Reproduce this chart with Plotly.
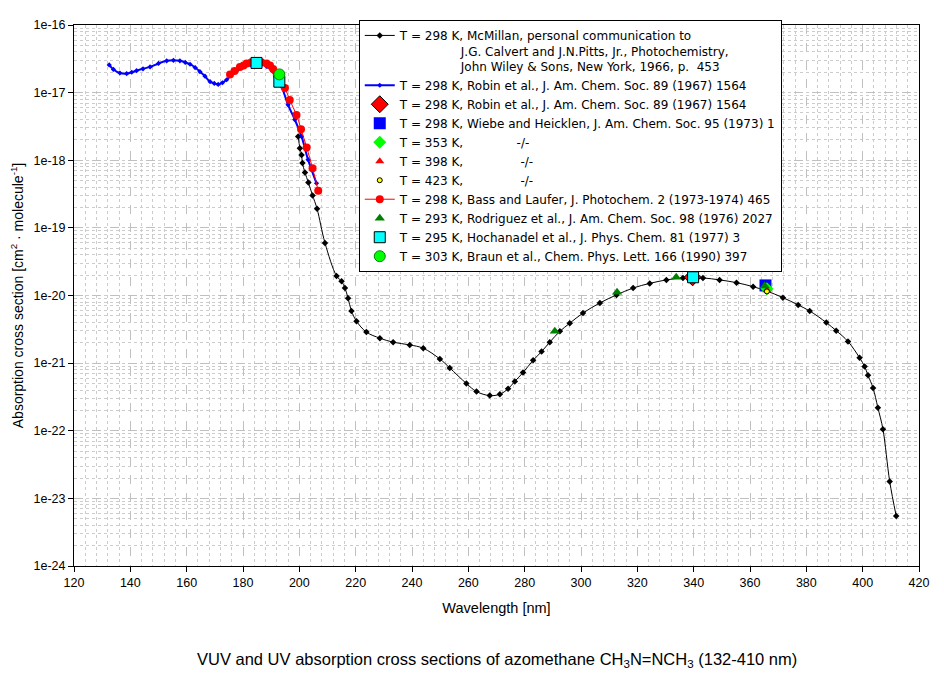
import plotly.graph_objects as go

# ---- data ----
mcmillan_wl = [199.6, 200.2, 200.8, 201.1, 202.0, 203.2, 204.7, 206.3, 209.1, 213.2, 215.0, 216.2,
               217.3, 218.5, 220.3, 223.8, 228.6, 233.3, 239.2, 244.0, 249.9, 253.4, 259.3, 262.9,
               267.6, 271.2, 274.1, 276.5, 279.4, 283.0, 286.0, 288.9, 292.5, 296.0, 300.7, 306.7,
               312.6, 318.5, 324.4, 330.3, 336.2, 343.3, 349.2, 355.2, 361.1, 365.8, 371.7, 377.1,
               381.2, 387.1, 390.6, 394.8, 398.9, 400.7, 401.9, 403.7, 405.4, 407.2, 409.6, 411.9]
mcmillan_xs = [2.24e-18, 1.51e-18, 1.20e-18, 9.1e-19, 6.6e-19, 4.68e-19, 3.02e-19, 1.91e-19, 6.0e-20,
               1.95e-20, 1.62e-20, 1.29e-20, 9.1e-21, 5.9e-21, 4.17e-21, 2.88e-21, 2.34e-21, 2.04e-21,
               1.86e-21, 1.66e-21, 1.15e-21, 8.5e-22, 5.0e-22, 3.8e-22, 3.31e-22, 3.47e-22, 4.17e-22,
               5.37e-22, 7.24e-22, 1.10e-21, 1.48e-21, 2.04e-21, 2.95e-21, 3.89e-21, 5.5e-21, 7.76e-21,
               1.02e-20, 1.29e-20, 1.51e-20, 1.70e-20, 1.82e-20, 1.82e-20, 1.70e-20, 1.55e-20, 1.35e-20,
               1.17e-20, 9.3e-21, 7.24e-21, 5.9e-21, 3.98e-21, 3.02e-21, 2.09e-21, 1.20e-21, 8.9e-22,
               6.6e-22, 4.27e-22, 2.19e-22, 1.05e-22, 1.78e-23, 5.5e-24]

robin_wl = [132.5, 134.0, 136.3, 138.7, 140.5, 142.2, 144.5, 147.0, 150.0, 152.9, 155.3, 157.6,
            159.5, 161.2, 163.0, 164.7, 166.5, 168.3, 169.8, 171.2, 172.7, 174.2, 176.5, 178.3,
            180.1, 182.5, 184.8, 186.6, 188.4, 190.7, 192.2, 193.7, 196.0, 198.4, 200.8, 203.1, 206.1]
robin_xs = [2.57e-17, 2.2e-17, 1.95e-17, 1.91e-17, 2.0e-17, 2.11e-17, 2.25e-17, 2.40e-17, 2.7e-17,
            2.95e-17, 3.0e-17, 2.95e-17, 2.8e-17, 2.63e-17, 2.35e-17, 2.04e-17, 1.75e-17, 1.45e-17,
            1.37e-17, 1.32e-17, 1.4e-17, 1.55e-17, 1.95e-17, 2.2e-17, 2.45e-17, 2.6e-17, 2.69e-17,
            2.6e-17, 2.45e-17, 2.04e-17, 1.6e-17, 1.23e-17, 6.6e-18, 3.98e-18, 2.24e-18, 1.02e-18,
            4.57e-19]

bass_wl = [175.4, 177.0, 178.9, 180.2, 181.3, 183.0, 184.8, 186.5, 188.4, 189.6, 190.7, 192.0,
           194.9, 196.6, 199.0, 200.6, 202.6, 204.7, 206.7]
bass_xs = [1.86e-17, 2.09e-17, 2.40e-17, 2.51e-17, 2.69e-17, 2.82e-17, 2.88e-17, 2.82e-17, 2.69e-17,
           2.51e-17, 2.24e-17, 1.82e-17, 1.17e-17, 7.76e-18, 4.68e-18, 2.88e-18, 1.55e-18, 7.59e-19,
           3.55e-19]

robin_pt_wl = [339.6]
robin_pt_xs = [1.86e-20]
wiebe_wl = [365.5]
wiebe_xs = [1.41e-20]
t353_wl = [366.0]
t353_xs = [1.26e-20]
t398_wl = [366.0]
t398_xs = [1.20e-20]
t423_wl = [366.0]
t423_xs = [1.15e-20]
rodriguez_wl = [290.7, 312.8, 333.8, 365.2]
rodriguez_xs = [2.95e-21, 1.12e-20, 1.86e-20, 1.38e-20]
hochanadel_wl = [184.8, 192.9, 339.8]
hochanadel_xs = [2.75e-17, 1.45e-17, 1.86e-20]
braun_wl = [192.9]
braun_xs = [1.86e-17]

y_tickvals = [1e-16, 1e-17, 1e-18, 1e-19, 1e-20, 1e-21, 1e-22, 1e-23, 1e-24]
y_ticktext = ["1e-16", "1e-17", "1e-18", "1e-19", "1e-20", "1e-21", "1e-22", "1e-23", "1e-24"]

FONT = "Liberation Sans, Arial, sans-serif"
LFONT = "DejaVu Sans, Liberation Sans, sans-serif"
NB = "\u00a0"

fig = go.Figure()

fig.add_trace(go.Scatter(
    x=mcmillan_wl, y=mcmillan_xs, mode="lines+markers", line=dict(color="black", width=1, shape="spline"),
    marker=dict(color="black", size=5, symbol="diamond"),
    name="T = 298 K, McMillan, personal communication to<br>" + NB * 16 +
         "J.G. Calvert and J.N.Pitts, Jr., Photochemistry,<br>" + NB * 16 +
         "John Wiley &amp; Sons, New York, 1966, p.  453"))
fig.add_trace(go.Scatter(
    x=robin_wl, y=robin_xs, mode="lines+markers", line=dict(color="#0000ff", width=2, shape="spline"),
    marker=dict(color="#0000ff", size=4, symbol="diamond"),
    name="T = 298 K, Robin et al., J. Am. Chem. Soc. 89 (1967) 1564"))
fig.add_trace(go.Scatter(
    x=robin_pt_wl, y=robin_pt_xs, mode="markers",
    marker=dict(color="#ff0000", size=13, symbol="diamond", line=dict(color="black", width=1)),
    name="T = 298 K, Robin et al., J. Am. Chem. Soc. 89 (1967) 1564"))
fig.add_trace(go.Scatter(
    x=wiebe_wl, y=wiebe_xs, mode="markers",
    marker=dict(color="#0000ff", size=12, symbol="square"),
    name="T = 298 K, Wiebe and Heicklen, J. Am. Chem. Soc. 95 (1973) 1"))
fig.add_trace(go.Scatter(
    x=t353_wl, y=t353_xs, mode="markers",
    marker=dict(color="#00ff00", size=10, symbol="diamond"),
    name="T = 353 K," + NB * 14 + "-/-"))
fig.add_trace(go.Scatter(
    x=t398_wl, y=t398_xs, mode="markers",
    marker=dict(color="#ff0000", size=8, symbol="triangle-up"),
    name="T = 398 K," + NB * 15 + "-/-"))
fig.add_trace(go.Scatter(
    x=t423_wl, y=t423_xs, mode="markers",
    marker=dict(color="#ffff00", size=5, symbol="circle", line=dict(color="black", width=1)),
    name="T = 423 K," + NB * 15 + "-/-"))
fig.add_trace(go.Scatter(
    x=bass_wl, y=bass_xs, mode="lines+markers", line=dict(color="#ff0000", width=1, shape="spline"),
    marker=dict(color="#ff0000", size=8, symbol="circle"),
    name="T = 298 K, Bass and Laufer, J. Photochem. 2 (1973-1974) 465"))
fig.add_trace(go.Scatter(
    x=rodriguez_wl, y=rodriguez_xs, mode="markers",
    marker=dict(color="#008000", size=9, symbol="triangle-up"),
    name="T = 293 K, Rodriguez et al., J. Am. Chem. Soc. 98 (1976) 2027"))
fig.add_trace(go.Scatter(
    x=hochanadel_wl, y=hochanadel_xs, mode="markers",
    marker=dict(color="#00ffff", size=11, symbol="square", line=dict(color="black", width=1)),
    name="T = 295 K, Hochanadel et al., J. Phys. Chem. 81 (1977) 3"))
fig.add_trace(go.Scatter(
    x=braun_wl, y=braun_xs, mode="markers",
    marker=dict(color="#00ff00", size=11, symbol="circle", line=dict(color="#008000", width=1)),
    name="T = 303 K, Braun et al., Chem. Phys. Lett. 166 (1990) 397"))

# page body has an 8px margin: figure is shrunk so the plot area lands where the reference has it
fig.update_layout(
    width=936, height=668,
    margin=dict(l=66, r=25, t=17, b=110, autoexpand=False),
    paper_bgcolor="white", plot_bgcolor="white",
    font=dict(family=FONT, size=12, color="black"),
    showlegend=True,
    legend=dict(x=0.337, y=1.009, xanchor="left", yanchor="top",
                bgcolor="white", bordercolor="black", borderwidth=1,
                font=dict(family=LFONT, size=12, color="black"),
                valign="top", tracegroupgap=0, itemwidth=30),
    annotations=[dict(
        text="VUV and UV absorption cross sections of azomethane CH<sub>3</sub>N=NCH<sub>3</sub> (132-410 nm)",
        xref="paper", yref="paper", x=0.501, y=-0.1738, xanchor="center", yanchor="middle",
        showarrow=False, font=dict(family=FONT, size=16.5, color="black"))],
)

fig.update_xaxes(
    range=[120, 420], dtick=20, tick0=120,
    showline=True, linecolor="black", linewidth=1, mirror=True,
    ticks="outside", ticklen=5, tickcolor="black",
    showgrid=True, gridcolor="#c0c0c0", griddash="dash", gridwidth=1,
    minor=dict(dtick=4, tick0=120, showgrid=True, gridcolor="#cccccc", griddash="dot", gridwidth=1),
    zeroline=False, automargin=False,
    title=dict(text="Wavelength [nm]", font=dict(family=FONT, size=14.5), standoff=13),
    tickfont=dict(family=FONT, size=12.5),
)
fig.update_yaxes(
    type="log", range=[-24, -16],
    tickvals=y_tickvals, ticktext=y_ticktext,
    showline=True, linecolor="black", linewidth=1, mirror=True,
    ticks="outside", ticklen=5, tickcolor="black",
    showgrid=True, gridcolor="#c0c0c0", griddash="dash", gridwidth=1,
    minor=dict(dtick="D1", showgrid=True, gridcolor="#cccccc", griddash="dot", gridwidth=1),
    zeroline=False, automargin=False,
    title=dict(text="Absorption cross section [cm<sup>2</sup> · molecule<sup>-1</sup>]",
               font=dict(family=FONT, size=14), standoff=10),
    tickfont=dict(family=FONT, size=12.5),
)

fig.write_html("out.html")
